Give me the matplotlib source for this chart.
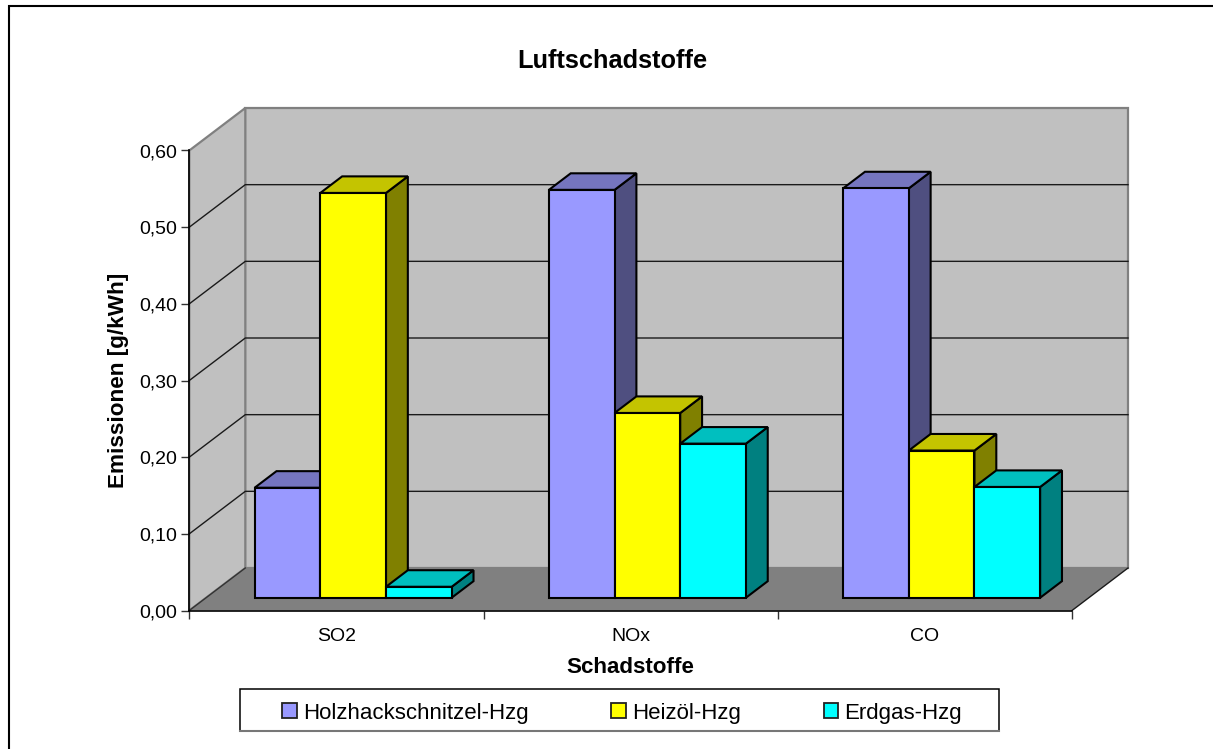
import matplotlib
matplotlib.use("Agg")
import matplotlib.pyplot as plt
from matplotlib.lines import Line2D
from matplotlib.patches import Polygon, Patch, Rectangle

plt.rcParams['font.family'] = ['Liberation Sans', 'DejaVu Sans']

categories = ["SO2", "NOx", "CO"]
series = ["Holzhackschnitzel-Hzg", "Heizöl-Hzg", "Erdgas-Hzg"]
holz = [0.1435, 0.532, 0.534]
heizoel = [0.528, 0.241, 0.192]
erdgas = [0.0143, 0.201, 0.1445]
values = [holz, heizoel, erdgas]
y_ticks = [0.0, 0.1, 0.2, 0.3, 0.4, 0.5, 0.6]
y_labels = ["0,00", "0,10", "0,20", "0,30", "0,40", "0,50", "0,60"]

front = ["#9999FF", "#FFFF00", "#00FFFF"]
top = ["#7575BF", "#C4C400", "#00BFBF"]
side = ["#4F4F80", "#808000", "#008080"]

W, H = 1213, 749
fig = plt.figure(figsize=(W / 100, H / 100), dpi=100, facecolor="white")
ax = fig.add_axes([189.3 / W, (H - 610.5) / H, (1072 - 189.3) / W, 460 / H])
ax.set_xlim(0, 3)
ax.set_ylim(0, 0.6)
ax.patch.set_visible(False)

# oblique projection of the depth axis, in data units
DX, DY = 56 / 294.2, 0.6 * 42.5 / 460
def P(x, y, d):
    return (x + DX * d, y + DY * d)

# walls and floor
wall = dict(clip_on=False, lw=1.6, edgecolor="#808080", facecolor="#C0C0C0", zorder=1)
ax.add_patch(Polygon([P(0, 0, 1), P(3, 0, 1), P(3, 0.6, 1), P(0, 0.6, 1)], **wall))
ax.add_patch(Polygon([P(0, 0, 0), P(0, 0, 1), P(0, 0.6, 1), P(0, 0.6, 0)], **wall))
ax.add_patch(Polygon([P(0, 0, 0), P(3, 0, 0), P(3, 0, 1), P(0, 0, 1)], clip_on=False,
                     lw=0, facecolor="#808080", zorder=1.5))
for v in y_ticks[1:-1]:
    a, b, c = P(0, v, 0), P(0, v, 1), P(3, v, 1)
    ax.plot([a[0], b[0], c[0]], [a[1], b[1], c[1]], color="#1a1a1a", lw=1.0, clip_on=False, zorder=2)
a, b = P(0, 0, 0), P(0, 0, 1)
ax.plot([a[0], b[0]], [a[1], b[1]], color="#333333", lw=1.0, clip_on=False, zorder=2)
a, b = P(3, 0, 0), P(3, 0, 1)
ax.plot([a[0], b[0]], [a[1], b[1]], color="#1a1a1a", lw=1.0, clip_on=False, zorder=2)

# bars
bw, gap = 0.2232, 0.165
d0, d1 = 0.30, 0.69
z = 3
edge = dict(edgecolor="black", lw=1.5, joinstyle="miter", clip_on=False)
for c in range(len(categories)):
    for s in range(len(series)):
        x0 = c + gap + s * bw
        x1 = x0 + bw
        v = values[s][c]
        ax.add_patch(Polygon([P(x1, 0, d0), P(x1, 0, d1), P(x1, v, d1), P(x1, v, d0)],
                             facecolor=side[s], zorder=z, **edge))
        ax.add_patch(Polygon([P(x0, v, d0), P(x1, v, d0), P(x1, v, d1), P(x0, v, d1)],
                             facecolor=top[s], zorder=z, **edge))
        ax.add_patch(Polygon([P(x0, 0, d0), P(x1, 0, d0), P(x1, v, d0), P(x0, v, d0)],
                             facecolor=front[s], zorder=z + 0.1, **edge))
        z += 1

# axes
for k in ("top", "right"):
    ax.spines[k].set_visible(False)
for k in ("left", "bottom"):
    ax.spines[k].set_linewidth(1.2)
    ax.spines[k].set_zorder(2.5)
ax.set_yticks(y_ticks, y_labels, fontsize=14)
ax.tick_params(axis="y", length=6, width=1.0, pad=2.5, color="#333333")
ax.set_xticks(range(4), [""] * 4)
ax.tick_params(axis="x", which="major", length=6, width=1.0, color="#333333")
ax.set_xticks([0.5, 1.5, 2.5], categories, minor=True, fontsize=14)
ax.tick_params(axis="x", which="minor", length=0, pad=12.7)

fig.text(612 / W, 1 - 61.5 / H, "Luftschadstoffe", ha="center", va="center",
         fontsize=18.3, fontweight="bold")
fig.text(630 / W, 1 - 667.5 / H, "Schadstoffe", ha="center", va="center",
         fontsize=16.1, fontweight="bold")
fig.text(118.5 / W, 1 - 380 / H, "Emissionen [g/kWh]", ha="center", va="center",
         rotation=90, fontsize=16.2, fontweight="bold")

# legend box
fig.add_artist(Rectangle((240 / W, 1 - 730.5 / H), 759 / W, 41.5 / H, transform=fig.transFigure,
                         facecolor="white", edgecolor="black", lw=1.1))
fig.add_artist(Line2D([240 / W, 999.5 / W], [1 - 731 / H] * 2, transform=fig.transFigure,
                      color="#777777", lw=1.5))
handles = [Patch(facecolor=f, edgecolor="#222222", lw=1.3) for f in front]
leg = fig.legend(handles, series, ncol=3, loc="center", bbox_to_anchor=(622 / W, 1 - 713 / H),
                 fontsize=16, frameon=False, handlelength=0.66, handleheight=0.66,
                 handletextpad=0.25, columnspacing=3.74, borderpad=0, borderaxespad=0)

# chart frame: only the top and left edges are inside the picture
fig.add_artist(Line2D([9 / W, 9 / W, 1], [0, 1 - 6 / H, 1 - 6 / H], transform=fig.transFigure,
                      color="black", lw=1.5, solid_joinstyle="miter"))

fig.savefig("out.png", dpi=100)
